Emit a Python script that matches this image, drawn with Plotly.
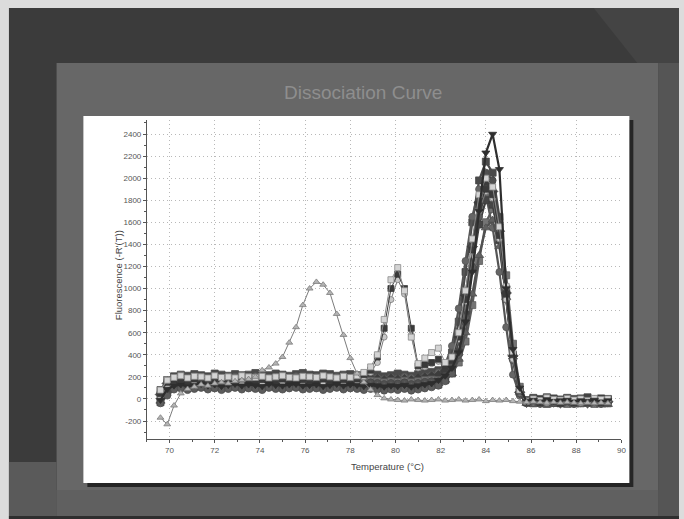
import plotly.graph_objects as go

# ---------------- data ----------------
TEMPS = [69.6, 69.9, 70.2, 70.5, 70.8, 71.1, 71.4, 71.7, 72.0, 72.3,
         72.6, 72.9, 73.2, 73.5, 73.8, 74.1, 74.4, 74.7, 75.0, 75.3,
         75.6, 75.9, 76.2, 76.5, 76.8, 77.1, 77.4, 77.7, 78.0, 78.3,
         78.6, 78.9, 79.2, 79.5, 79.8, 80.1, 80.4, 80.7, 81.0, 81.3,
         81.6, 81.9, 82.2, 82.5, 82.8, 83.1, 83.4, 83.7, 84.0, 84.3,
         84.6, 84.9, 85.2, 85.5, 85.8, 86.1, 86.4, 86.7, 87.0, 87.3,
         87.6, 87.9, 88.2, 88.5, 88.8, 89.1, 89.4]

sample_a = [80, 170, 205, 220, 210, 225, 215, 205, 230, 220,
            210, 225, 215, 220, 235, 225, 215, 230, 220, 210,
            225, 235, 220, 215, 230, 225, 210, 220, 225, 215,
            210, 225, 220, 205, 215, 230, 220, 210, 225, 235,
            245, 260, 300, 420, 700, 1150, 1600, 1980, 2150, 2050,
            1650, 1000, 400, 70, -10, 10, 0, 15, 5, -5,
            10, 0, 5, 15, -5, 5, 0]
sample_b = [60, 160, 190, 200, 185, 205, 195, 180, 200, 190,
            185, 200, 195, 180, 205, 195, 190, 200, 185, 195,
            205, 190, 185, 200, 195, 185, 200, 205, 190, 195,
            185, 200, 190, 180, 195, 185, 200, 190, 185, 205,
            215, 240, 310, 480, 820, 1250, 1650, 1900, 1850, 1550,
            1150, 650, 220, 30, -20, -10, -20, -5, -15, -25,
            -10, -20, -15, -5, -20, -10, -15]
sample_c = [40, 140, 175, 185, 170, 190, 180, 170, 185, 175,
            180, 170, 190, 180, 175, 185, 170, 180, 190, 175,
            170, 185, 180, 175, 190, 180, 170, 185, 175, 180,
            170, 185, 175, 165, 180, 170, 175, 165, 180, 190,
            200, 210, 250, 340, 560, 940, 1380, 1780, 1950, 1880,
            1520, 960, 390, 60, -30, -20, -30, -15, -25, -35,
            -20, -30, -25, -35, -20, -30, -25]
sample_d = [20, 120, 160, 170, 155, 165, 175, 160, 170, 155,
            165, 175, 160, 170, 155, 165, 175, 160, 170, 165,
            155, 170, 165, 160, 175, 165, 155, 170, 160, 165,
            155, 165, 160, 150, 160, 155, 165, 150, 160, 170,
            175, 170, 190, 230, 330, 520, 850, 1250, 1600, 1720,
            1560, 1120, 500, 110, -20, -40, -30, -45, -35, -40,
            -45, -35, -40, -30, -45, -35, -40]
sample_e = [0, 100, 145, 155, 140, 150, 160, 145, 155, 140,
            150, 160, 145, 155, 150, 140, 160, 150, 145, 155,
            160, 145, 150, 155, 140, 150, 160, 145, 155, 150,
            140, 150, 145, 135, 145, 140, 150, 135, 145, 155,
            160, 160, 210, 300, 520, 900, 1380, 1820, 2050, 1980,
            1580, 980, 360, 50, -30, -15, -25, -10, -20, -30,
            -15, -25, -20, -30, -15, -25, -20]
sample_f = [-20, 80, 125, 135, 120, 130, 140, 125, 135, 120,
            130, 140, 125, 135, 130, 120, 140, 130, 125, 135,
            140, 125, 130, 135, 120, 130, 140, 125, 135, 130,
            120, 130, 125, 115, 125, 120, 130, 115, 125, 135,
            140, 140, 170, 230, 360, 600, 950, 1300, 1550, 1620,
            1380, 920, 380, 60, -40, -50, -40, -55, -45, -50,
            -40, -55, -45, -50, -40, -55, -50]
sample_g = [-30, 60, 105, 115, 100, 110, 120, 105, 115, 100,
            110, 120, 105, 115, 110, 100, 120, 110, 105, 115,
            120, 105, 110, 115, 100, 110, 120, 105, 115, 110,
            100, 110, 105, 95, 105, 100, 110, 95, 105, 115,
            125, 130, 170, 240, 420, 760, 1180, 1580, 1800, 1760,
            1440, 920, 380, 60, -30, 0, -10, 5, -5, -15,
            0, -10, -5, 5, -10, 0, -5]
sample_h = [-40, 30, 85, 95, 80, 90, 100, 85, 95, 80,
            90, 100, 85, 95, 90, 80, 100, 90, 85, 95,
            100, 85, 90, 95, 80, 90, 100, 85, 95, 90,
            80, 90, 85, 75, 85, 80, 90, 75, 85, 95,
            105, 120, 160, 230, 400, 740, 1200, 1650, 1900, 1850,
            1480, 900, 350, 50, -40, -30, -45, -25, -40, -35,
            -30, -45, -35, -40, -30, -45, -35]
# samples with an extra peak near 80 °C
sample_i = [80, 170, 195, 210, 190, 205, 200, 190, 210, 195,
            200, 190, 210, 200, 195, 205, 190, 200, 210, 195,
            190, 205, 200, 195, 210, 200, 190, 205, 195, 210,
            240, 290, 400, 720, 1080, 1190, 980, 560, 320, 370,
            420, 460, 330, 380, 600, 980, 1450, 1850, 2000, 1920,
            1560, 1020, 430, 80, -20, 0, -15, 10, -5, -10,
            5, -10, 0, -15, 5, -5, 0]
sample_j = [50, 150, 165, 175, 160, 180, 170, 160, 175, 165,
            170, 160, 180, 170, 165, 175, 160, 170, 180, 165,
            160, 175, 170, 165, 180, 170, 160, 175, 165, 180,
            220, 260, 380, 640, 1000, 1130, 1000, 640, 300, 310,
            330, 360, 300, 350, 560, 900, 1350, 1750, 1900, 1850,
            1480, 950, 400, 70, -30, -20, -35, -15, -25, -40,
            -25, -35, -20, -30, -25, -35, -30]
sample_k = [10, 110, 140, 150, 135, 145, 155, 140, 150, 135,
            145, 155, 140, 150, 145, 135, 155, 145, 140, 150,
            155, 140, 145, 150, 135, 145, 155, 140, 150, 160,
            200, 240, 330, 560, 900, 1080, 950, 580, 280, 290,
            320, 340, 310, 360, 540, 880, 1300, 1700, 1880, 1820,
            1450, 900, 360, 60, -20, -30, -15, -35, -25, -20,
            -30, -20, -35, -25, -30, -20, -25]
# tallest sample (peak ~2400)
sample_l = [-10, 90, 120, 130, 115, 125, 135, 120, 130, 115,
            125, 135, 120, 130, 125, 115, 135, 125, 120, 130,
            135, 120, 125, 130, 115, 125, 135, 120, 130, 125,
            115, 125, 120, 110, 120, 115, 125, 110, 120, 130,
            140, 170, 210, 280, 420, 700, 1150, 1700, 2230, 2400,
            2080, 1000, 450, 100, -20, -10, -25, -5, -20, -15,
            -10, -25, -15, -20, -10, -25, -15]
# sample with peak near 76.5 °C (triangles)
sample_tri = [-170, -230, -60, 50, 90, 110, 130, 120, 140, 150,
              140, 160, 170, 180, 200, 260, 285, 320, 380, 510,
              650, 850, 1000, 1060, 1035, 960, 770, 580, 370, 230,
              150, 85, 35, 5, -5, -10, -15, -5, -10, -15,
              -10, -5, -15, -10, -5, -15, -10, -5, -20, -10,
              -15, -10, -20, -25, -30, -25, -30, -35, -30, -35,
              -30, -35, -40, -35, -40, -35, -40]

X_TICKS = [70, 72, 74, 76, 78, 80, 82, 84, 86, 88, 90]
Y_TICKS = [-200, 0, 200, 400, 600, 800, 1000, 1200, 1400, 1600, 1800, 2000, 2200, 2400]

W, H = 684, 519


def fx(p):
    return p / W


def fy(p):
    return 1 - p / H


def rect(x0, y0, x1, y1, color):
    return dict(type="rect", xref="paper", yref="paper", layer="below",
                x0=fx(x0), x1=fx(x1), y0=fy(y1), y1=fy(y0),
                line=dict(width=0), fillcolor=color)


fig = go.Figure()

styles = [
    (sample_a, "square", "#4a4a4a", "#4a4a4a", 7),
    (sample_b, "circle", "#666666", "#555555", 7),
    (sample_c, "diamond", "#3c3c3c", "#3c3c3c", 8),
    (sample_d, "square", "#747474", "#5a5a5a", 7),
    (sample_e, "circle", "#505050", "#454545", 7),
    (sample_f, "triangle-up", "#606060", "#505050", 8),
    (sample_g, "square", "#454545", "#3e3e3e", 7),
    (sample_h, "circle", "#5c5c5c", "#4c4c4c", 7),
    (sample_k, "circle", "#c8c8c8", "#7a7a7a", 6),
    (sample_j, "square", "#3a3a3a", "#3a3a3a", 6),
    (sample_i, "square", "#d4d4d4", "#8a8a8a", 6),
    (sample_l, "triangle-down", "#2e2e2e", "#2e2e2e", 7),
    (sample_tri, "triangle-up", "#b4b4b4", "#7c7c7c", 6),
]
for vals, sym, fill, edge, size in styles:
    fig.add_trace(go.Scatter(
        x=TEMPS, y=vals, mode="lines+markers",
        line=dict(color=edge, width=2.2 if size >= 7 else 1),
        marker=dict(symbol=sym, size=size, color=fill,
                    line=dict(color=edge, width=0.8)),
        showlegend=False, hoverinfo="skip"))

shapes = [
    rect(9, 8, 684, 519, "#3b3b3b"),
    dict(type="path", xref="paper", yref="paper", layer="below",
         path=f"M {fx(598)},{fy(8)} L {fx(684)},{fy(8)} L {fx(684)},{fy(63)} L {fx(642)},{fy(63)} Z",
         line=dict(width=0), fillcolor="#444444"),
    rect(57, 63, 663, 519, "#676767"),
    rect(663, 63, 684, 519, "#555555"),
    rect(9, 462, 57, 519, "#5a5a5a"),
    rect(57, 490, 663, 516, "#606060"),
    rect(9, 516, 684, 519, "#2e2e2e"),
    rect(88, 120, 638, 487, "#262626"),
    rect(84, 116, 634, 483, "#ffffff"),
]

tickfont = dict(family="Liberation Sans, Arial, sans-serif", size=8, color="#555555")
grid_dash = "1px,3px"

fig.update_layout(
    width=W, height=H,
    margin=dict(l=0, r=0, t=0, b=0),
    paper_bgcolor="#dcdcdc",
    plot_bgcolor="#ffffff",
    shapes=shapes,
    xaxis=dict(domain=[fx(148), fx(626)], range=[69, 90],
               tickvals=X_TICKS, ticktext=[str(v) for v in X_TICKS],
               showline=True, linecolor="#555555", linewidth=1,
               ticks="outside", ticklen=3, tickcolor="#555555",
               minor=dict(dtick=1, tick0=69, ticks="outside", ticklen=2, tickcolor="#555555"),
               showgrid=True, gridcolor="#b8b8b8", griddash=grid_dash, gridwidth=1,
               zeroline=False, tickfont=tickfont),
    yaxis=dict(domain=[fy(439), fy(120)], range=[-363, 2527],
               tickvals=Y_TICKS, ticktext=[str(v) for v in Y_TICKS],
               showline=True, linecolor="#555555", linewidth=1,
               ticks="outside", ticklen=3, tickcolor="#555555",
               minor=dict(dtick=100, tick0=0, ticks="outside", ticklen=2, tickcolor="#555555"),
               showgrid=True, gridcolor="#b8b8b8", griddash=grid_dash, gridwidth=1,
               zeroline=False, tickfont=tickfont),
    annotations=[
        dict(text="Dissociation Curve", xref="paper", yref="paper",
             x=fx(366), y=fy(92), xanchor="center", yanchor="middle", showarrow=False,
             font=dict(family="Liberation Sans, Arial, sans-serif", size=19, color="#8e8e8e")),
        dict(text="Fluorescence (-R'(T))", xref="paper", yref="paper",
             x=fx(119), y=fy(275), xanchor="center", yanchor="middle",
             showarrow=False, textangle=-90,
             font=dict(family="Liberation Sans, Arial, sans-serif", size=9.5, color="#444444")),
        dict(text="Temperature (°C)", xref="paper", yref="paper",
             x=fx(390), y=fy(466), xanchor="center", yanchor="middle", showarrow=False,
             font=dict(family="Liberation Sans, Arial, sans-serif", size=9.5, color="#444444")),
    ],
)

fig.write_html("out.html")
